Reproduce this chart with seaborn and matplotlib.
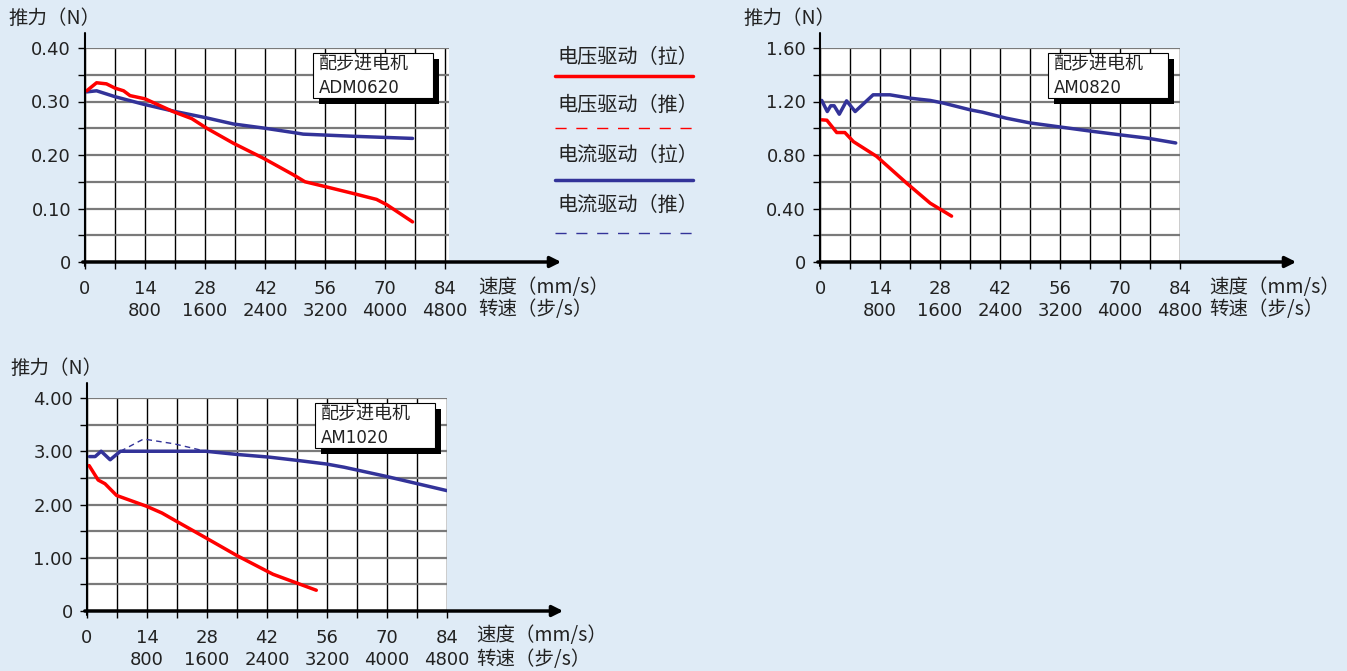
import matplotlib.pyplot as plt
import matplotlib.patches as mpatches
import matplotlib.lines as mlines
import seaborn as sns

W, H = 1347, 671
BG = '#DFEBF6'
RED = '#FF0000'
BLUE = '#333399'

# speed in mm/s, thrust in N
adm_v_pull_x = [0.4, 2.7, 5, 7, 9, 10.5, 14, 20.6, 24.9, 28.4, 34.6, 41.6, 48.6, 51.3, 56, 62.6, 68, 70.4, 76.4]
adm_v_pull_y = [0.32, 0.335, 0.333, 0.325, 0.32, 0.311, 0.305, 0.281, 0.268, 0.25, 0.222, 0.194, 0.163, 0.150, 0.141, 0.128, 0.117, 0.107, 0.075]
adm_c_pull_x = [0.4, 2.7, 7, 13.6, 20.6, 28, 34.6, 42, 48.6, 50.9, 62.6, 76.4]
adm_c_pull_y = [0.318, 0.32, 0.309, 0.295, 0.282, 0.27, 0.258, 0.25, 0.242, 0.239, 0.235, 0.231]

am08_v_pull_x = [0.4, 1.6, 3.9, 5.8, 7.8, 13.2, 20.2, 25.7, 30.7]
am08_v_pull_y = [1.063, 1.06, 0.968, 0.968, 0.90, 0.79, 0.59, 0.44, 0.343]
am08_c_pull_x = [0.4, 1.7, 2.5, 3.3, 4.5, 6.2, 8.2, 12.4, 16.3, 21, 25.7, 28.8, 35, 37.9, 43.5, 49, 55.9, 62.8, 70.2, 76.6, 83]
am08_c_pull_y = [1.208, 1.125, 1.168, 1.168, 1.105, 1.205, 1.125, 1.25, 1.25, 1.225, 1.208, 1.188, 1.138, 1.12, 1.075, 1.04, 1.01, 0.98, 0.95, 0.925, 0.89]

am10_v_pull_x = [0.5, 2.6, 4.2, 6.9, 13.8, 17.5, 21.2, 27.7, 35, 43.4, 49.8, 53.5]
am10_v_pull_y = [2.73, 2.46, 2.39, 2.17, 1.97, 1.84, 1.67, 1.375, 1.04, 0.69, 0.50, 0.39]
am10_c_pull_x = [0.6, 1.9, 3.3, 5.4, 7.8, 27.7, 35, 42.5, 48.9, 55.9, 60, 69.7, 76.6, 84]
am10_c_pull_y = [2.90, 2.90, 3.0, 2.84, 3.0, 3.0, 2.94, 2.89, 2.83, 2.76, 2.70, 2.53, 2.40, 2.26]
am10_c_push_x = [7.8, 13.2, 20.3, 27.7]
am10_c_push_y = [3.0, 3.23, 3.14, 3.0]

speed_ticks = [0, 14, 28, 42, 56, 70, 84]
step_ticks = ['', '800', '1600', '2400', '3200', '4000', '4800']
legend_labels = ['电压驱动（拉）', '电压驱动（推）', '电流驱动（拉）', '电流驱动（推）']

sns.set_theme(style='white')
plt.rcParams['font.family'] = ['DejaVu Sans', 'Noto Sans CJK SC']
CJK = ['Noto Sans CJK SC', 'DejaVu Sans']
TXT = '#222222'
FS = 13

fig = plt.figure(figsize=(W / 100, H / 100), dpi=100)
fig.patch.set_facecolor(BG)


def fx(x):
    return x / W


def fy(y):
    return 1 - y / H


def panel(left, top, right, bottom, ymax, ystep, yfmt, model, arrow_end, series, xmax=84):
    ax = fig.add_axes([fx(left), fy(bottom), fx(right - left), (bottom - top) / H])
    ax.set_facecolor('white')
    for s in ax.spines.values():
        s.set_visible(False)
    for x, y, c, ls, lw in series:
        sns.lineplot(x=x, y=y, ax=ax, color=c, linestyle=ls, linewidth=lw,
                     estimator=None, sort=False)
    ax.set_xlim(0, xmax)
    ax.set_ylim(0, ymax)
    ax.set_xticks(speed_ticks)
    ax.set_xticklabels([f'{a}\n{b}' if b else f'{a}' for a, b in zip(speed_ticks, step_ticks)],
                       fontsize=FS, linespacing=1.3, color=TXT)
    ax.set_xticks([7, 21, 35, 49, 63, 77], minor=True)
    yt = [i * ystep for i in range(5)]
    ax.set_yticks(yt)
    ax.set_yticklabels(['0'] + [yfmt.format(v) for v in yt[1:]], fontsize=FS, color=TXT)
    ax.set_yticks([ystep * (i + 0.5) for i in range(4)], minor=True)
    ax.tick_params(which='both', bottom=True, left=True, direction='out',
                   length=5, width=1, color='black')
    ax.tick_params(axis='x', pad=8)
    ax.tick_params(axis='y', pad=5)
    ax.grid(True, which='both', axis='y', color='#7a7a7a', lw=1.6)
    ax.grid(True, which='both', axis='x', color='black', lw=1.0)
    ax.set_axisbelow(True)
    ax.set_xlabel('')
    ax.set_ylabel('')

    # y axis line and x axis arrow
    fig.add_artist(mlines.Line2D([fx(left), fx(left)], [fy(bottom + 4), fy(top - 15)],
                                 color='black', lw=1.5))
    fig.add_artist(mpatches.FancyArrowPatch((fx(left - 5), fy(bottom)), (fx(arrow_end), fy(bottom)),
                                            transform=fig.transFigure, arrowstyle='-|>',
                                            mutation_scale=16, color='black', lw=2.5))
    fig.text(fx(left - 77), fy(top - 30), '推力（N）', fontsize=14, va='center', ha='left',
             family=CJK, color=TXT)
    fig.text(fx(right + 29), fy(bottom + 25), '速度（mm/s）', fontsize=14, va='center', ha='left',
             family=CJK, color=TXT)
    fig.text(fx(right + 29), fy(bottom + 48), '转速（步/s）', fontsize=14, va='center', ha='left',
             family=CJK, color=TXT)

    # model box with shadow
    bx0, bx1 = left + 228, left + 348
    by0, by1 = top + 5, top + 50
    fig.add_artist(mpatches.Rectangle((fx(bx0 + 6), fy(by1 + 6)), fx(bx1 - bx0), (by1 - by0) / H,
                                      transform=fig.transFigure, facecolor='black', edgecolor='none'))
    fig.add_artist(mpatches.Rectangle((fx(bx0), fy(by1)), fx(bx1 - bx0), (by1 - by0) / H,
                                      transform=fig.transFigure, facecolor='white',
                                      edgecolor='black', lw=0.8))
    fig.text(fx(bx0 + 6), fy(by0 + 11), '配步进电机', fontsize=13, va='center', ha='left',
             family=CJK, color=TXT)
    fig.text(fx(bx0 + 6), fy(by0 + 35), model, fontsize=12, va='center', ha='left', color=TXT)
    return ax


panel(85, 48, 449, 262, 0.40, 0.10, '{:.2f}', 'ADM0620', 564,
      [(adm_c_pull_x, adm_c_pull_y, BLUE, '-', 2.5),
       (adm_v_pull_x, adm_v_pull_y, RED, '-', 2.5)], xmax=84.9)
panel(820, 48, 1180, 262, 1.60, 0.40, '{:.2f}', 'AM0820', 1299,
      [(am08_c_pull_x, am08_c_pull_y, BLUE, '-', 2.5),
       (am08_v_pull_x, am08_v_pull_y, RED, '-', 2.5)])
panel(87, 398, 447, 611, 4.00, 1.00, '{:.2f}', 'AM1020', 566,
      [(am10_c_push_x, am10_c_push_y, BLUE, (0, (4, 3)), 1.0),
       (am10_c_pull_x, am10_c_pull_y, BLUE, '-', 2.5),
       (am10_v_pull_x, am10_v_pull_y, RED, '-', 2.5)])

# legend
leg_styles = [(RED, '-', 2.5), (RED, (0, (8, 7)), 1.0), (BLUE, '-', 2.5), (BLUE, (0, (8, 7)), 1.0)]
for i, (lab, (c, ls, lw)) in enumerate(zip(legend_labels, leg_styles)):
    ty = [57, 105, 155, 205][i]
    ly = [76, 128, 180, 233][i]
    fig.text(fx(557), fy(ty), lab, fontsize=14.5, va='center', ha='left', family=CJK, color=TXT)
    fig.add_artist(mlines.Line2D([fx(555), fx(693)], [fy(ly), fy(ly)], color=c, ls=ls, lw=lw))

fig.savefig('out.png', dpi=100, facecolor=BG)
